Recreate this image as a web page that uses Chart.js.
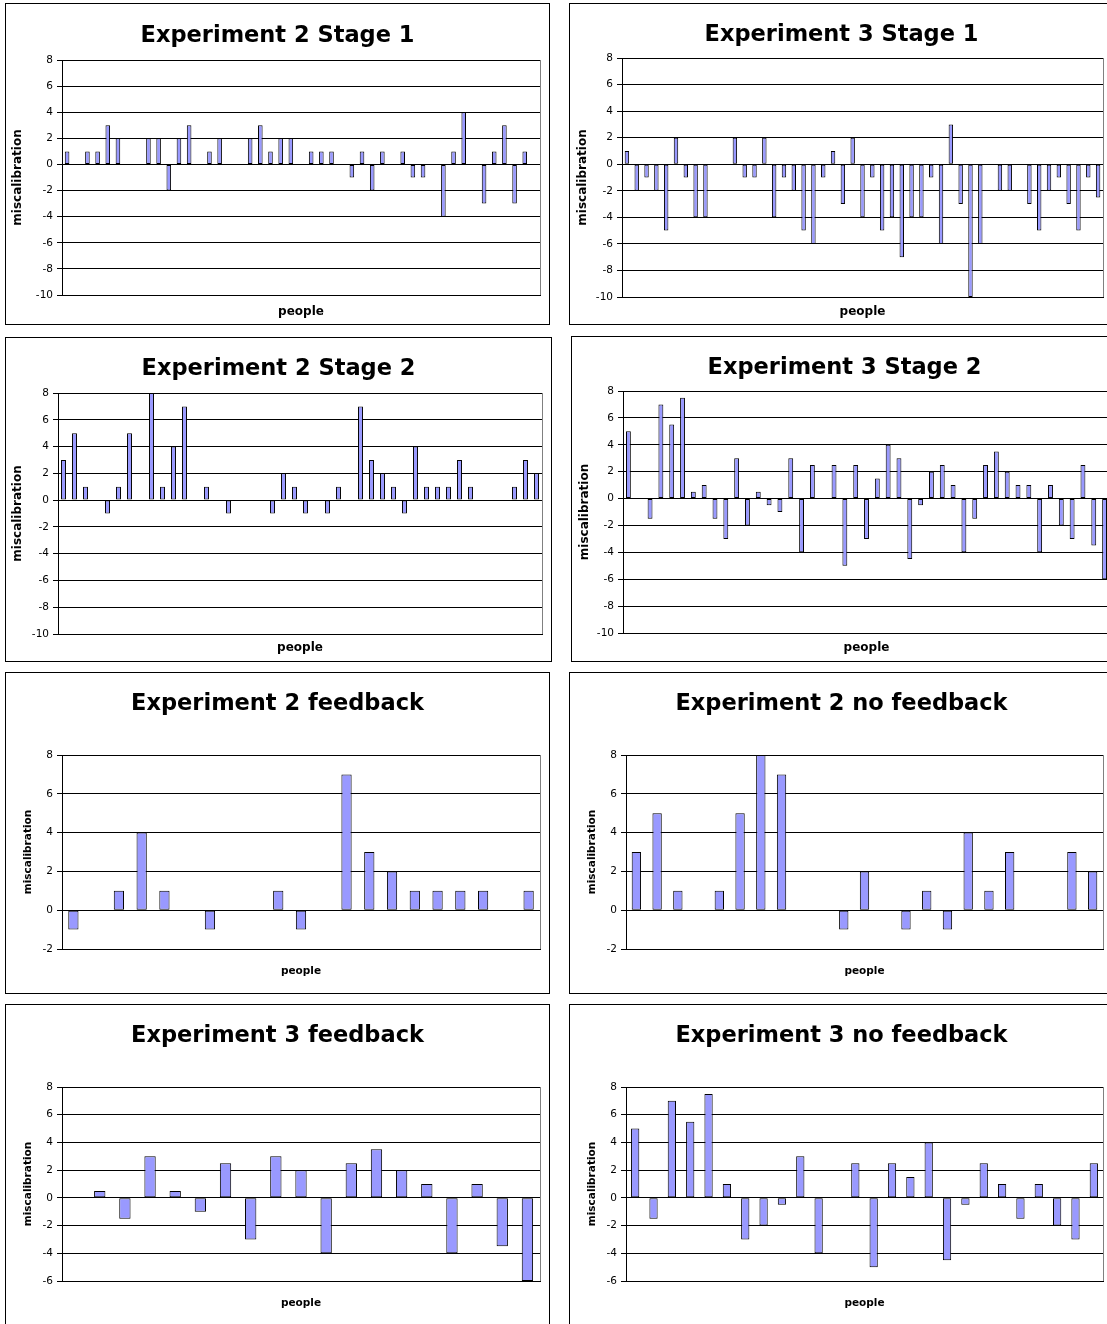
<!DOCTYPE html>
<html>
<head>
<meta charset="utf-8">
<title>Miscalibration per person</title>
<script src="https://cdn.jsdelivr.net/npm/chart.js@4.4.1/dist/chart.umd.min.js"></script>
<style>
  html, body { margin: 0; padding: 0; background: #fff; }
  #page { position: relative; width: 1107px; height: 1324px; overflow: hidden; background: #fff; }
  .panel { position: absolute; border: 1px solid #000; box-sizing: border-box; background: #fff; }
  .panel canvas { position: absolute; left: 0; top: 0; }
</style>
</head>
<body>
<div id="page"></div>
<script>
// miscalibration per person
const exp2Stage1 = [1, 0, 1, 1, 3, 2, 0, 0, 2, 2, -2, 2, 3, 0, 1, 2, 0, 0, 2, 3, 1, 2, 2, 0,
  1, 1, 1, 0, -1, 1, -2, 1, 0, 1, -1, -1, 0, -4, 1, 4, 0, -3, 1, 3, -3, 1, 0];
const exp3Stage1 = [1, -2, -1, -2, -5, 2, -1, -4, -4, 0, 0, 2, -1, -1, 2, -4, -1, -2, -5, -6,
  -1, 1, -3, 2, -4, -1, -5, -4, -7, -4, -4, -1, -6, 3, -3, -10, -6, 0, -2, -2, 0, -3, -5, -2,
  -1, -3, -5, -1, -2.5];
const exp2Stage2 = [3, 5, 1, 0, -1, 1, 5, 0, 8, 1, 4, 7, 0, 1, 0, -1, 0, 0, 0, -1, 2, 1, -1, 0,
  -1, 1, 0, 7, 3, 2, 1, -1, 4, 1, 1, 1, 3, 1, 0, 0, 0, 1, 3, 2];
const exp3Stage2 = [5, 0, -1.5, 7, 5.5, 7.5, 0.5, 1, -1.5, -3, 3, -2, 0.5, -0.5, -1, 3, -4, 2.5,
  0, 2.5, -5, 2.5, -3, 1.5, 4, 3, -4.5, -0.5, 2, 2.5, 1, -4, -1.5, 2.5, 3.5, 2, 1, 1, -4, 1,
  -2, -3, 2.5, -3.5, -6];
const exp2Feedback = [-1, 0, 1, 4, 1, 0, -1, 0, 0, 1, -1, 0, 7, 3, 2, 1, 1, 1, 1, 0, 1];
const exp2NoFeedback = [3, 5, 1, 0, 1, 5, 8, 7, 0, 0, -1, 2, 0, -1, 1, -1, 4, 1, 3, 0, 0, 3, 2];
const exp3Feedback = [0, 0.5, -1.5, 3, 0.5, -1, 2.5, -3, 3, 2, -4, 2.5, 3.5, 2, 1, -4, 1, -3.5, -6];
const exp3NoFeedback = [5, -1.5, 7, 5.5, 7.5, 1, -3, -2, -0.5, 3, -4, 0, 2.5, -5, 2.5, 1.5, 4,
  -4.5, -0.5, 2.5, 1, -1.5, 1, -2, -3, 2.5];

// y axis ranges (min, max) and tick step
const stageRange = [-10, 8];
const exp2Range = [-2, 8];
const exp3Range = [-6, 8];
const yStep = 2;

const xTitle = "people";
const yTitle = "miscalibration";

const FONT = "'DejaVu Sans', 'Liberation Sans', sans-serif";
const BAR_FILL = "#9999ff";

// frame = outer box of each chart, plot = inner plot area (page coords)
const panels = [
  { title: "Experiment 2 Stage 1", values: exp2Stage1, range: stageRange,
    frame: { x: 5, y: 3, w: 545, h: 322 }, plot: { l: 62, r: 540, t: 60, b: 295 },
    titleY: 36, xTitleY: 312, yTitleX: 18, small: false },
  { title: "Experiment 3 Stage 1", values: exp3Stage1, range: stageRange,
    frame: { x: 569, y: 3, w: 545, h: 322 }, plot: { l: 622, r: 1103, t: 58, b: 297 },
    titleY: 35, xTitleY: 312, yTitleX: 583, small: false },
  { title: "Experiment 2 Stage 2", values: exp2Stage2, range: stageRange,
    frame: { x: 5, y: 337, w: 547, h: 325 }, plot: { l: 58, r: 542, t: 393, b: 634 },
    titleY: 369, xTitleY: 648, yTitleX: 18, small: false },
  { title: "Experiment 3 Stage 2", values: exp3Stage2, range: stageRange,
    frame: { x: 571, y: 336, w: 547, h: 326 }, plot: { l: 623, r: 1110, t: 391, b: 633 },
    titleY: 368, xTitleY: 648, yTitleX: 585, small: false },
  { title: "Experiment 2 feedback", values: exp2Feedback, range: exp2Range,
    frame: { x: 5, y: 672, w: 545, h: 322 }, plot: { l: 62, r: 540, t: 755, b: 949 },
    titleY: 704, xTitleY: 971, yTitleX: 28, small: true },
  { title: "Experiment 2 no feedback", values: exp2NoFeedback, range: exp2Range,
    frame: { x: 569, y: 672, w: 545, h: 322 }, plot: { l: 626, r: 1103, t: 755, b: 949 },
    titleY: 704, xTitleY: 971, yTitleX: 592, small: true },
  { title: "Experiment 3 feedback", values: exp3Feedback, range: exp3Range,
    frame: { x: 5, y: 1004, w: 545, h: 322 }, plot: { l: 62, r: 540, t: 1087, b: 1281 },
    titleY: 1036, xTitleY: 1303, yTitleX: 28, small: true },
  { title: "Experiment 3 no feedback", values: exp3NoFeedback, range: exp3Range,
    frame: { x: 569, y: 1004, w: 545, h: 322 }, plot: { l: 626, r: 1103, t: 1087, b: 1281 },
    titleY: 1036, xTitleY: 1303, yTitleX: 592, small: true },
];

// grey plot-area border, painted before the black grid goes on top
const plotFrame = {
  id: "plotFrame",
  beforeDraw(chart) {
    const { ctx, chartArea: a } = chart;
    ctx.save();
    ctx.strokeStyle = "#808080";
    ctx.lineWidth = 1;
    ctx.strokeRect(Math.round(a.left) + 0.5, Math.round(a.top) + 0.5,
      Math.round(a.right - a.left), Math.round(a.bottom - a.top));
    ctx.restore();
  },
};

function buildPanel(cfg) {
  const page = document.getElementById("page");
  const box = document.createElement("div");
  box.className = "panel";
  box.style.left = cfg.frame.x + "px";
  box.style.top = cfg.frame.y + "px";
  box.style.width = cfg.frame.w + "px";
  box.style.height = cfg.frame.h + "px";
  const canvas = document.createElement("canvas");
  const W = cfg.frame.w - 2;
  const H = cfg.frame.h - 2;
  canvas.width = W;
  canvas.height = H;
  box.appendChild(canvas);
  page.appendChild(box);

  // canvas origin in page coords
  const ox = cfg.frame.x + 1;
  const oy = cfg.frame.y + 1;
  const plotL = cfg.plot.l - ox;
  const plotR = cfg.plot.r - ox;
  const plotT = cfg.plot.t - oy;
  const plotB = cfg.plot.b - oy;

  // symmetric side padding keeps the chart title centred on the frame
  const side = W - plotR;
  const titleSize = 22.5;
  const titleLH = titleSize * 1.2;
  const titleTop = cfg.titleY - oy - titleLH / 2;
  const axisTitleSize = cfg.small ? 10.5 : 12;
  const axisLH = axisTitleSize * 1.2;
  const xAxisH = H - plotB;
  const yAxisW = plotL - side;

  return new Chart(canvas, {
    type: "bar",
    data: {
      labels: cfg.values.map((_, i) => i + 1),
      datasets: [
        {
          data: cfg.values,
          backgroundColor: BAR_FILL,
          borderColor: "#000",
          borderWidth: 1,
          borderSkipped: false,
          barPercentage: 0.45,
          categoryPercentage: 1,
        },
      ],
    },
    options: {
      responsive: false,
      animation: false,
      devicePixelRatio: 1,
      layout: { padding: { left: side, right: side, top: 0, bottom: 0 } },
      plugins: {
        legend: { display: false },
        tooltip: { enabled: false },
        title: {
          display: true,
          text: cfg.title,
          color: "#000",
          font: { family: FONT, size: titleSize, weight: "bold", lineHeight: 1.2 },
          padding: { top: titleTop, bottom: plotT - titleTop - titleLH },
        },
      },
      scales: {
        x: {
          grid: { display: false },
          border: { display: true, color: "#000" },
          ticks: { display: false },
          title: {
            display: true,
            text: xTitle,
            color: "#000",
            font: { family: FONT, size: axisTitleSize, weight: "bold", lineHeight: 1.2 },
            padding: { top: 0, bottom: H - (cfg.xTitleY - oy) - axisLH / 2 },
          },
          afterFit: (s) => { s.height = xAxisH; },
        },
        y: {
          min: cfg.range[0],
          max: cfg.range[1],
          ticks: {
            stepSize: yStep,
            color: "#000",
            padding: 4,
            font: { family: FONT, size: 10.5 },
          },
          grid: { color: "#000", lineWidth: 1, tickLength: 5 },
          border: { display: true, color: "#000" },
          title: {
            display: true,
            text: yTitle,
            color: "#000",
            font: { family: FONT, size: axisTitleSize, weight: "bold", lineHeight: 1.2 },
            padding: { top: cfg.yTitleX - ox - side - axisLH / 2, bottom: 0 },
          },
          afterFit: (s) => { s.width = yAxisW; },
        },
      },
    },
    plugins: [plotFrame],
  });
}

document.addEventListener("DOMContentLoaded", () => panels.forEach(buildPanel));
</script>
</body>
</html>
